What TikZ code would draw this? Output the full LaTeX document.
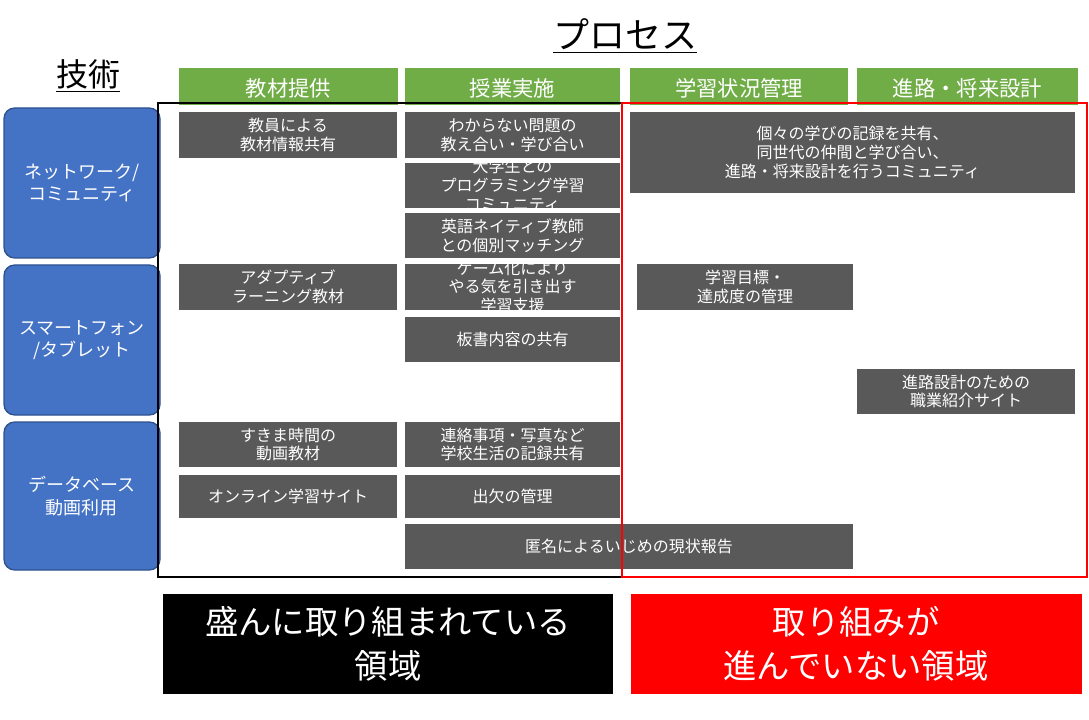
\documentclass[tikz,border=0pt]{standalone}
\usepackage{fontspec}
\setmainfont{Noto Sans CJK JP}
\begin{document}
\begin{tikzpicture}[x=0.75pt,y=-0.75pt,
  gbox/.style={fill=gray!70!black,draw=white,line width=0.6pt,text=white,align=center,font=\fontsize{11.5}{12.5}\selectfont,inner sep=0pt},
  hbox/.style={fill=green!55!black!70!lime,text=white,font=\fontsize{16}{18}\selectfont,inner sep=0pt},
  tbox/.style={fill={rgb,255:red,68;green,114;blue,196},draw={rgb,255:red,47;green,82;blue,143},line width=1pt,rounded corners=8pt,text=white,align=center,font=\fontsize{13}{15}\selectfont,inner sep=0pt}]
\useasboundingbox (0,0) rectangle (1089,720);
\definecolor{hgreen}{RGB}{112,173,71}
\newcommand{\bx}[6]{\path[#1] (#2,#3) rectangle (#4,#5); \node[#1,fill=none,draw=none] (#6) at ({(#2+#4)/2},{(#3+#5)/2}) {};}
\node[font=\fontsize{27}{30}\selectfont] (proc) at (625,36) {\underline{プロセス}};
\node[font=\fontsize{24}{28}\selectfont] (gi) at (88,76) {\underline{技術}};
\foreach \a/\b/\t [count=\i] in {179/398/教材提供,405/620/授業実施,630/848/学習状況管理,857/1078/進路・将来設計}{
  \fill[hgreen] (\a,68) rectangle (\b,105);
  \node[text=white,font=\fontsize{16}{18}\selectfont] (h\i) at ({(\a+\b)/2},88) {\t};}
\foreach \a/\b/\t [count=\i] in {108/258/{ネットワーク/\\コミュニティ},265/415/{スマートフォン\\/タブレット},422/570/{データベース\\動画利用}}{
  \draw[tbox] (4,\a) rectangle (160,\b);
  \node[text=white,align=center,font=\fontsize{13.5}{17}\selectfont] (t\i) at (82,{(\a+\b)/2}) {\t};}
\foreach \xa/\ya/\xb/\yb/\t [count=\i] in {
 179/112/397/158/{教員による\\教材情報共有},
 405/112/620/158/{わからない問題の\\教え合い・学び合い},
 405/163/620/208/{大学生との\\プログラミング学習\\コミュニティ},
 405/213/620/258/{英語ネイティブ教師\\との個別マッチング},
 405/264/620/310/{ゲーム化により\\やる気を引き出す\\学習支援},
 405/317/620/362/{板書内容の共有},
 630/112/1075/193/{個々の学びの記録を共有、\\同世代の仲間と学び合い、\\進路・将来設計を行うコミュニティ},
 179/264/397/310/{アダプティブ\\ラーニング教材},
 637/264/853/310/{学習目標・\\達成度の管理},
 857/369/1075/414/{進路設計のための\\職業紹介サイト},
 179/422/397/467/{すきま時間の\\動画教材},
 405/422/620/467/{連絡事項・写真など\\学校生活の記録共有},
 179/475/397/518/{オンライン学習サイト},
 405/475/620/518/{出欠の管理},
 405/524/853/569/{匿名によるいじめの現状報告}}{
  \fill[gray!70!black] (\xa,\ya) rectangle (\xb,\yb);
  \node[text=white,align=center,font=\fontsize{12}{14}\selectfont] (g\i) at ({(\xa+\xb)/2},{(\ya+\yb)/2}) {\t};}
\draw[black,line width=1.2pt] (158,103) rectangle (622,577);
\draw[red,line width=1.2pt] (622,103) rectangle (1087,577);
\fill[black] (163,594) rectangle (613,694);
\node[text=white,align=center,font=\fontsize{25}{33}\selectfont] (b1) at (388,644) {盛んに取り組まれている\\領域};
\fill[red] (631,594) rectangle (1082,694);
\node[text=white,align=center,font=\fontsize{25}{33}\selectfont] (b2) at (856,644) {取り組みが\\進んでいない領域};
\end{tikzpicture}
\end{document}
